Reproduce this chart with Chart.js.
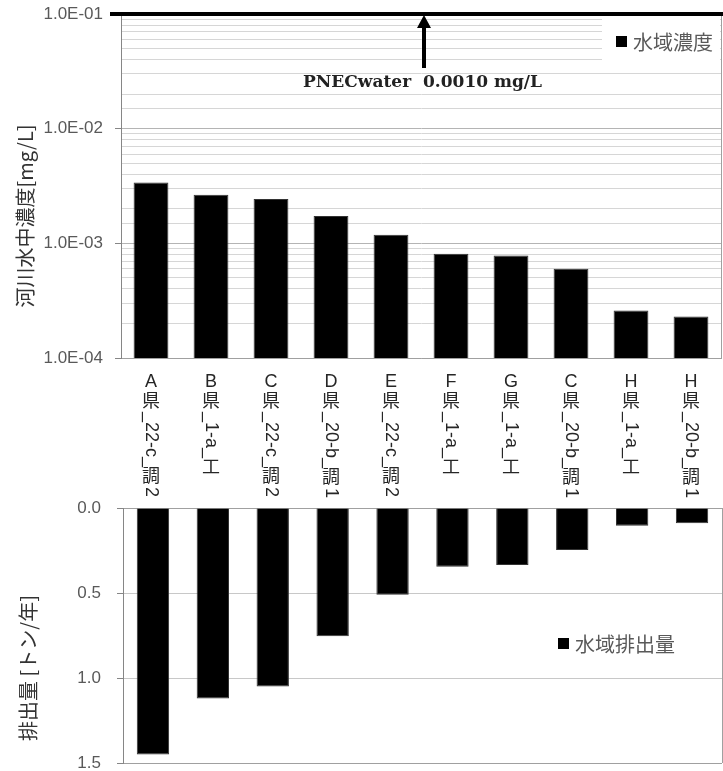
<!DOCTYPE html>
<html>
<head>
<meta charset="utf-8">
<script src="https://cdn.jsdelivr.net/npm/chart.js@4.4.1/dist/chart.umd.min.js"></script>
<style>
  body { margin: 0; background: #fff; }
  #concChart { position: absolute; left: 0; top: 0; }
  #emisChart { position: absolute; left: 0; top: 498px; }
</style>
</head>
<body>
<canvas id="concChart" width="723" height="498"></canvas>
<canvas id="emisChart" width="723" height="273"></canvas>
<script>
// categories (river sites)
const categories = [
  "A県_22-c_調2", "B県_1-a_工", "C県_22-c_調2", "D県_20-b_調1", "E県_22-c_調2",
  "F県_1-a_工", "G県_1-a_工", "C県_20-b_調1", "H県_1-a_工", "H県_20-b_調1"
];
// river water concentration [mg/L]
const riverConc = [3.40e-3, 2.65e-3, 2.44e-3, 1.73e-3, 1.19e-3, 8.1e-4, 7.85e-4, 6.0e-4, 2.6e-4, 2.3e-4];
// emission to water [t/year]
const waterEmission = [1.45, 1.12, 1.05, 0.755, 0.51, 0.345, 0.335, 0.247, 0.105, 0.09];

const concRange = [1e-4, 1e-1];
const emisTicks = [0, 0.5, 1.0, 1.5];
const pnecText = ["PNECwater", "0.0010 mg/L"];

const SANS = "'Liberation Sans', 'Noto Sans CJK JP', sans-serif";
const CJK = "'Noto Sans CJK JP', 'Liberation Sans', sans-serif";

function isDecade(v) {
  const l = Math.log10(v);
  return Math.abs(l - Math.round(l)) < 1e-9;
}

function fmtExp(v) {
  const e = Math.round(Math.log10(v));
  return "1.0E" + (e < 0 ? "-" : "+") + String(Math.abs(e)).padStart(2, "0");
}

// full-width chars and capitals stand upright, the rest is turned 90deg
function drawVerticalLabel(ctx, text, cx, y0) {
  let cur = y0;
  let run = "";
  const flush = () => {
    if (!run) return;
    const w = ctx.measureText(run).width;
    ctx.save();
    ctx.translate(cx, cur);
    ctx.rotate(Math.PI / 2);
    ctx.textAlign = "left";
    ctx.textBaseline = "middle";
    ctx.fillText(run, 0, 0);
    ctx.restore();
    cur += w;
    run = "";
  };
  for (const ch of text) {
    if (/[A-Z]/.test(ch) || ch.charCodeAt(0) > 0x2000) {
      flush();
      ctx.textAlign = "center";
      ctx.textBaseline = "middle";
      ctx.fillText(ch, cx, cur + 10);
      cur += 20;
    } else {
      run += ch;
    }
  }
  flush();
}

function drawLegend(ctx, x, y, label, box) {
  ctx.save();
  if (box) {
    ctx.fillStyle = "#fff";
    ctx.fillRect(box[0], box[1], box[2], box[3]);
  }
  ctx.fillStyle = "#000";
  ctx.fillRect(x, y - 5, 11, 11);
  ctx.font = "20px " + CJK;
  ctx.fillStyle = "#595959";
  ctx.textAlign = "left";
  ctx.textBaseline = "middle";
  ctx.fillText(label, x + 17, y + 1);
  ctx.restore();
}

function drawAxisTitle(ctx, text, x, y) {
  ctx.save();
  ctx.translate(x, y);
  ctx.rotate(-Math.PI / 2);
  ctx.font = "20px " + CJK;
  ctx.fillStyle = "#333";
  ctx.textAlign = "center";
  ctx.textBaseline = "middle";
  ctx.fillText(text, 0, 0);
  ctx.restore();
}

// fixed axis width, no extra room for the end labels
function fixWidth(w) {
  return s => {
    s.width = w;
    s.paddingTop = 0;
    s.paddingBottom = 0;
  };
}

const concDecor = {
  id: "concDecor",
  afterDraw(chart) {
    const { ctx, chartArea: a, scales: { x, y } } = chart;
    ctx.save();
    // right frame
    ctx.strokeStyle = "#a0a0a0";
    ctx.lineWidth = 1;
    ctx.beginPath();
    ctx.moveTo(a.right + 0.5, a.top);
    ctx.lineTo(a.right + 0.5, a.bottom);
    ctx.stroke();

    // thick reference line at the top
    const yTop = y.getPixelForValue(concRange[1]);
    ctx.strokeStyle = "#000";
    ctx.lineWidth = 4;
    ctx.beginPath();
    ctx.moveTo(110, yTop);
    ctx.lineTo(723, yTop);
    ctx.stroke();

    // arrow
    const ax = a.left + (a.right - a.left) * 0.505;
    ctx.fillStyle = "#000";
    ctx.fillRect(ax - 2, yTop + 13, 4, 41);
    ctx.beginPath();
    ctx.moveTo(ax - 7, yTop + 14);
    ctx.lineTo(ax + 7, yTop + 14);
    ctx.lineTo(ax, yTop + 1);
    ctx.closePath();
    ctx.fill();

    // PNEC text
    ctx.font = "bold 17px 'DejaVu Serif', serif";
    ctx.fillStyle = "#222";
    ctx.textAlign = "left";
    ctx.textBaseline = "middle";
    ctx.fillText(pnecText[0], 303, 83);
    ctx.fillText(pnecText[1], 423, 83);
    ctx.restore();

    drawLegend(ctx, 616, 41, chart.data.datasets[0].label, [602, 16, 118, 52]);

    // category labels
    ctx.save();
    ctx.font = "18px " + SANS;
    ctx.fillStyle = "#262626";
    categories.forEach((c, i) => {
      drawVerticalLabel(ctx, c, x.getPixelForValue(i), 372);
    });
    ctx.restore();

    drawAxisTitle(ctx, "河川水中濃度[mg/L]", 25, 216);
  }
};

const emisDecor = {
  id: "emisDecor",
  afterDraw(chart) {
    const { ctx, chartArea: a } = chart;
    ctx.save();
    ctx.strokeStyle = "#a0a0a0";
    ctx.lineWidth = 1;
    ctx.beginPath();
    ctx.moveTo(a.right + 0.5, a.top);
    ctx.lineTo(a.right + 0.5, a.bottom);
    ctx.stroke();
    ctx.restore();
    drawLegend(ctx, 558, 145, chart.data.datasets[0].label, null);
    drawAxisTitle(ctx, "排出量 [トン/年]", 28, 170);
  }
};

new Chart(document.getElementById("concChart").getContext("2d"), {
  type: "bar",
  data: {
    labels: categories,
    datasets: [{
      label: "水域濃度",
      data: riverConc,
      backgroundColor: "#000",
      borderColor: "#333",
      borderWidth: 1,
      categoryPercentage: 1.0,
      barPercentage: 0.58
    }]
  },
  options: {
    responsive: false,
    animation: false,
    layout: { padding: { top: 14, right: 2, bottom: 0, left: 0 } },
    plugins: { legend: { display: false }, tooltip: { enabled: false } },
    scales: {
      x: {
        grid: { display: false },
        ticks: { display: false },
        border: { color: "#a0a0a0" },
        afterFit: s => { s.height = 140; }
      },
      y: {
        type: "logarithmic",
        min: concRange[0],
        max: concRange[1],
        afterFit: fixWidth(121),
        border: { color: "#868686" },
        grid: {
          color: c => (c.tick && isDecade(c.tick.value)) ? "#b4b4b4" : "#d6d6d6",
          tickColor: c => (c.tick && isDecade(c.tick.value)) ? "#868686" : "rgba(0,0,0,0)",
          tickLength: 6
        },
        ticks: {
          autoSkip: false,
          padding: 12,
          color: "#595959",
          font: { family: SANS, size: 17 },
          callback: v => isDecade(v) ? fmtExp(v) : ""
        }
      }
    }
  },
  plugins: [concDecor]
});

new Chart(document.getElementById("emisChart").getContext("2d"), {
  type: "bar",
  data: {
    labels: categories,
    datasets: [{
      label: "水域排出量",
      data: waterEmission,
      backgroundColor: "#000",
      borderColor: "#333",
      borderWidth: 1,
      categoryPercentage: 1.0,
      barPercentage: 0.54
    }]
  },
  options: {
    responsive: false,
    animation: false,
    layout: { padding: { top: 10, right: 1, bottom: 8, left: 0 } },
    plugins: { legend: { display: false }, tooltip: { enabled: false } },
    scales: {
      x: { display: false },
      y: {
        reverse: true,
        min: emisTicks[0],
        max: emisTicks[emisTicks.length - 1],
        afterFit: fixWidth(123),
        afterBuildTicks: s => { s.ticks = emisTicks.map(v => ({ value: v })); },
        border: { color: "#868686" },
        grid: {
          color: c => (c.tick && (c.tick.value === 0 || c.tick.value === 1.5)) ? "#a0a0a0" : "#c8c8c8",
          tickColor: "#868686",
          tickLength: 6
        },
        ticks: {
          padding: 16,
          color: "#595959",
          font: { family: SANS, size: 17 },
          callback: v => Number(v).toFixed(1)
        }
      }
    }
  },
  plugins: [emisDecor]
});
</script>
</body>
</html>
